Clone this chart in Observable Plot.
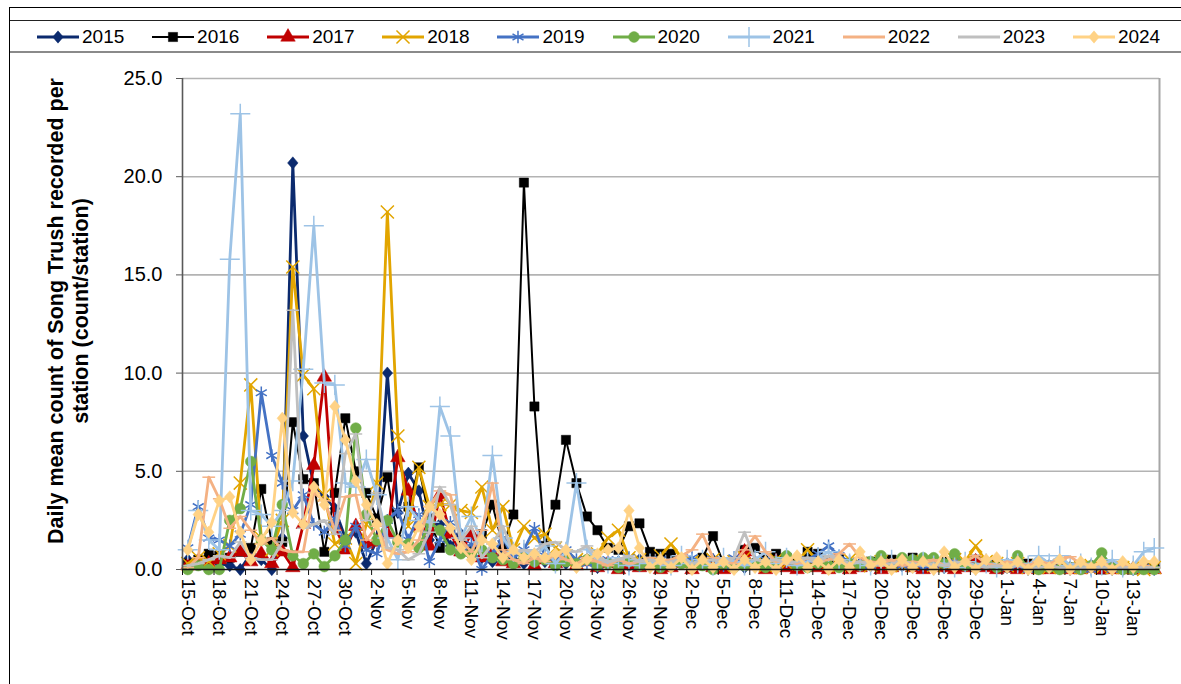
<!DOCTYPE html>
<html>
<head>
<meta charset="utf-8">
<script src="https://cdn.jsdelivr.net/npm/d3@7"></script>
<script src="https://cdn.jsdelivr.net/npm/@observablehq/plot@0.6"></script>
<style>
  body { margin: 0; background: #fff; font-family: "Liberation Sans", Arial, sans-serif; }
  #frame { position: absolute; left: 9px; top: 7px; width: 1172px; height: 677px; border-top: 1.5px solid #000; border-left: 1.5px solid #000; box-sizing: border-box; pointer-events: none; }
  #legend { position: absolute; left: 10px; top: 20px; width: 1171px; height: 33px; border-top: 1px solid #222; border-bottom: 2px solid #8a8a8a; box-sizing: border-box; }
  .item { position: absolute; top: 4px; height: 24px; display: flex; align-items: center; font-size: 19px; color: #000; }
  .item svg { margin-right: 3px; }
  #chart { position: absolute; left: 0; top: 54px; }
</style>
</head>
<body>
<div id="frame"></div>
<div id="legend"></div>
<div id="chart"></div>
<script>
// Day index 0 = 15-Oct ... 92 = 15-Jan
const tickLabels = ["15-Oct","18-Oct","21-Oct","24-Oct","27-Oct","30-Oct","2-Nov","5-Nov","8-Nov","11-Nov","14-Nov","17-Nov","20-Nov","23-Nov","26-Nov","29-Nov","2-Dec","5-Dec","8-Dec","11-Dec","14-Dec","17-Dec","20-Dec","23-Dec","26-Dec","29-Dec","1-Jan","4-Jan","7-Jan","10-Jan","13-Jan"];
const yTicks = [0, 5, 10, 15, 20, 25];
const years = ["2015","2016","2017","2018","2019","2020","2021","2022","2023","2024"];

const v2015 = [0.5,0.3,0.6,0.3,0.2,0.0,0.8,0.5,0.0,1.6,
20.7,6.8,4.3,3.7,3.1,1.6,1.9,0.3,1.5,10.0,
2.9,4.9,4.0,1.5,2.3,1.2,1.8,0.7,0.6,0.4,
0.8,0.5,0.3,0.6,0.4,0.7,0.3,0.2,0.5,0.1,
0.3,0.4,0.2,0.5,0.3,0.4,0.2,0.4,0.1,0.3,
0.5,0.2,0.3,0.1,0.4,0.2,0.6,0.3,0.1,0.2,
0.4,0.3,0.2,0.1,0.3,0.2,0.4,0.1,0.2,0.3,
0.1,0.2,0.1,0.3,0.2,0.1,0.2,0.1,0.3,0.1,
0.2,0.1,0.1,0.2,0.1,0.1,0.2,0.1,0.1,0.0,
0.1,0.1,0.2];
const v2016 = [0.3,0.5,0.8,0.7,0.6,0.9,1.1,4.1,1.4,1.4,
7.5,4.6,4.4,0.9,3.9,7.7,5.0,3.9,2.6,4.7,
1.5,3.2,5.2,2.6,1.1,1.9,1.3,1.0,1.8,3.3,
1.2,2.8,19.7,8.3,1.2,3.3,6.6,4.4,2.7,2.0,
1.1,1.0,2.2,2.35,0.9,0.8,0.8,0.5,0.3,0.6,
1.7,0.3,0.4,1.0,1.1,0.5,0.8,0.6,0.4,0.9,
0.8,0.4,0.6,0.3,0.2,0.4,0.3,0.5,0.3,0.6,
0.4,0.2,0.4,0.5,0.3,0.5,0.2,0.3,0.1,0.2,
0.3,0.1,0.2,0.1,0.1,0.2,0.1,0.0,0.1,0.1,
0.0,0.1,0.1];
const v2017 = [0.2,0.4,0.3,0.5,0.6,0.9,0.4,0.8,0.3,0.9,
0.1,2.3,5.3,9.8,2.2,1.0,2.2,1.3,1.4,1.8,
5.7,4.0,2.2,1.2,3.8,1.8,0.9,1.8,0.6,0.8,
0.4,0.3,0.6,0.2,0.5,0.3,0.7,0.2,0.4,0.1,
0.3,0.0,0.2,0.1,0.2,0.0,0.1,0.3,0.0,0.2,
0.1,0.0,0.3,0.9,0.2,0.0,0.4,0.1,0.0,0.2,
0.1,0.0,0.3,0.0,0.1,0.2,0.0,0.1,0.3,0.1,
0.0,0.2,0.1,0.0,0.1,0.4,0.1,0.0,0.1,0.0,
0.1,0.0,0.0,0.1,0.0,0.0,0.1,0.0,0.0,0.0,
0.0,0.0,0.0];
const v2018 = [0.3,0.6,0.4,0.8,1.2,4.4,9.4,1.6,1.0,2.5,
15.4,9.9,9.2,3.8,1.3,1.6,0.3,2.3,4.4,18.2,
6.8,2.2,5.2,3.2,3.3,3.3,3.0,2.9,4.2,2.0,
3.2,1.0,2.2,1.6,1.8,1.1,0.7,0.5,0.4,0.8,
1.6,2.0,0.6,0.5,0.3,0.7,1.3,0.6,0.4,0.3,
0.5,0.2,0.4,0.6,0.3,0.2,0.5,0.3,0.4,1.0,
0.4,0.3,0.2,0.5,0.3,0.2,0.4,0.3,0.2,0.3,
0.4,0.2,0.3,0.5,0.4,1.2,0.4,0.3,0.2,0.3,
0.1,0.2,0.1,0.2,0.1,0.1,0.2,0.1,0.1,0.1,
0.1,0.0,0.1];
const v2019 = [1.1,3.2,1.6,1.5,1.2,1.8,3.3,9.0,5.8,4.4,
3.0,3.8,2.3,1.9,2.6,1.2,2.2,1.0,0.8,2.5,
3.0,1.5,2.8,0.4,1.5,2.4,0.9,1.3,0.0,0.8,
1.6,0.6,1.0,2.1,0.7,0.4,1.0,0.5,0.3,0.2,
0.5,0.3,0.6,0.2,0.3,0.5,0.2,0.4,0.6,0.3,
0.5,0.2,0.6,0.4,0.3,0.5,0.2,0.4,0.3,0.5,
0.8,1.2,0.7,0.4,0.3,0.2,0.4,0.3,0.2,0.3,
0.1,0.2,0.3,0.4,0.2,0.1,0.3,0.2,0.1,0.2,
0.0,0.1,0.2,0.1,0.0,0.1,0.0,0.1,0.0,0.1,
0.0,0.1,0.0];
const v2020 = [0.0,0.2,0.0,0.0,2.5,3.1,5.5,1.5,1.0,3.3,
0.7,0.3,0.8,0.15,0.7,1.5,7.2,2.8,1.5,2.5,
1.4,1.3,1.1,2.4,2.0,1.0,0.8,0.8,1.0,0.6,
0.5,0.3,0.6,0.4,0.5,0.2,0.4,0.3,0.5,0.2,
0.3,0.1,0.4,0.2,0.3,0.1,0.2,0.3,0.1,0.2,
0.0,0.3,0.1,0.2,0.3,0.1,0.4,0.7,0.2,0.1,
0.3,0.2,0.1,0.3,0.2,0.4,0.7,0.2,0.6,0.5,
0.6,0.6,0.3,0.8,0.2,0.1,0.3,0.1,0.2,0.7,
0.1,0.0,0.1,0.0,0.1,0.0,0.2,0.85,0.1,0.0,
0.0,0.0,0.0];
const v2021 = [1.0,3.0,1.5,1.0,15.8,23.2,3.0,2.8,2.2,3.0,
4.5,10.2,17.5,9.5,9.4,4.4,4.2,5.6,3.8,1.6,
0.5,3.2,2.5,2.4,8.3,6.8,1.6,2.7,1.4,5.8,
1.6,0.9,1.0,0.6,1.2,0.3,0.9,4.4,1.0,0.5,
0.3,0.6,0.2,0.5,0.3,0.4,0.2,0.7,0.3,0.5,
0.2,0.6,0.4,0.2,0.5,0.9,0.3,0.6,0.2,0.4,
0.6,0.9,0.5,0.3,0.4,0.2,0.3,0.5,0.2,0.3,
0.4,0.2,0.3,0.1,0.4,0.2,0.3,0.1,0.5,0.3,
0.2,0.7,0.3,0.7,0.2,0.3,0.1,0.2,0.5,0.1,
0.2,0.9,1.1];
const v2022 = [0.1,0.6,4.7,3.6,2.1,2.7,2.0,1.3,1.6,1.0,
0.9,0.9,3.9,3.5,2.0,3.7,3.8,1.5,2.2,1.0,
0.8,0.9,1.5,3.2,4.0,3.8,1.5,0.9,2.0,4.4,
1.0,0.5,0.3,0.6,0.4,0.8,0.5,0.3,0.6,0.4,
0.2,0.5,0.3,0.4,0.6,0.3,0.5,0.7,1.0,1.8,
0.6,0.4,0.3,1.0,1.7,0.9,0.4,0.5,0.3,0.6,
0.4,0.5,0.8,1.3,0.6,0.4,0.3,0.5,0.2,0.4,
0.3,0.5,0.2,0.3,0.4,0.7,0.3,0.2,0.4,0.3,
0.2,0.4,0.3,0.5,0.65,0.3,0.2,0.3,0.1,0.2,
0.1,0.2,0.1];
const v2023 = [0.2,0.3,0.5,0.7,0.6,1.4,0.6,0.5,0.5,1.4,
13.2,2.1,2.3,2.5,1.8,5.9,6.9,2.5,3.9,1.1,
1.0,0.5,0.8,1.9,4.2,3.3,1.5,2.2,0.6,1.3,
2.2,0.8,1.0,0.9,1.3,1.4,1.0,0.9,1.2,0.6,
0.4,0.5,0.7,0.4,0.5,0.3,0.4,0.5,0.3,0.4,
0.5,0.3,0.6,1.9,0.5,0.4,0.5,0.3,0.4,0.6,
0.4,0.7,0.5,0.3,0.4,0.3,0.2,0.3,0.4,0.3,
0.2,0.3,0.2,0.4,0.3,0.2,0.1,0.2,0.1,0.2,
0.1,0.1,0.2,0.1,0.1,0.1,0.1,0.1,0.1,0.1,
0.1,0.1,0.1];
const v2024 = [1.0,2.8,1.9,3.5,3.7,1.9,0.5,1.5,2.4,7.7,
2.9,2.3,4.2,3.3,8.3,6.6,4.5,3.3,2.3,0.3,
1.5,1.1,2.2,3.2,2.8,2.1,1.1,0.5,1.5,1.3,
0.6,1.0,0.6,0.8,0.6,0.8,1.0,0.1,0.5,0.8,
1.0,1.1,3.0,1.1,0.1,0.5,0.1,0.6,0.0,0.5,
0.1,0.4,0.0,0.5,0.1,0.4,0.0,0.5,0.7,0.1,
0.4,0.0,0.5,0.1,0.9,0.2,0.4,0.0,0.5,0.1,
0.4,0.0,0.9,0.1,0.4,0.0,0.5,0.6,0.1,0.4,
0.0,0.4,0.1,0.5,0.0,0.4,0.1,0.4,0.0,0.4,
0.1,0.4,0.4];

// Custom marker shapes
const dash = { draw(ctx, size) { const w = Math.sqrt(size) * 0.8; ctx.moveTo(-w, 0); ctx.lineTo(w, 0); } };
const rhombus = { draw(ctx, size) { const h = Math.sqrt(size) * 0.62; ctx.moveTo(0, -h); ctx.lineTo(h * 0.85, 0); ctx.lineTo(0, h); ctx.lineTo(-h * 0.85, 0); ctx.closePath(); } };

const styles = [
  {color: "#0B2A6E", symbol: rhombus, filled: true, r: 5.6, lw: 2.8},
  {color: "#000000", symbol: "square", filled: true, r: 5.2, lw: 2},
  {color: "#C00000", symbol: "triangle", filled: true, r: 5.4, lw: 2.8},
  {color: "#E2A500", symbol: "times", filled: false, r: 6, lw: 2.8},
  {color: "#4472C4", symbol: "asterisk", filled: false, r: 6, lw: 2.8},
  {color: "#70AD47", symbol: "circle", filled: true, r: 5.4, lw: 2.8},
  {color: "#9DC3E6", symbol: "plus", filled: false, r: 6.5, lw: 2.8},
  {color: "#F4B183", symbol: dash, filled: false, r: 4.5, lw: 2.8},
  {color: "#BFBFBF", symbol: dash, filled: false, r: 4.5, lw: 2.8},
  {color: "#FFD285", symbol: rhombus, filled: true, r: 5.6, lw: 2.8}
];
const d3Named = {square: d3.symbolSquare, triangle: d3.symbolTriangle, times: d3.symbolTimes, asterisk: d3.symbolAsterisk, circle: d3.symbolCircle, plus: d3.symbolPlus};
const allValues = [v2015, v2016, v2017, v2018, v2019, v2020, v2021, v2022, v2023, v2024];

const series = years.map((y, k) => ({
  year: y,
  ...styles[k],
  data: allValues[k].map((v, i) => ({day: i, value: v, year: y}))
}));

const marks = [];
for (const s of series) {
  marks.push(Plot.line(s.data, {x: "day", y: "value", stroke: s.color, strokeWidth: s.lw}));
  marks.push(Plot.dot(s.data, {
    x: "day", y: "value", symbol: s.symbol, r: s.r,
    fill: s.filled ? s.color : "none",
    stroke: s.color,
    strokeWidth: s.filled ? 0.5 : 1.5
  }));
}

const labelDays = tickLabels.map((_, k) => k * 3);
const boundaryDays = tickLabels.map((_, k) => k * 3 - 0.5);

const chart = Plot.plot({
  width: 1181,
  height: 630,
  marginLeft: 182,
  marginRight: 22,
  marginTop: 24,
  marginBottom: 115,
  style: {fontFamily: "'Liberation Sans', Arial, sans-serif", color: "#000", background: "transparent", overflow: "visible"},
  x: {domain: [-0.5, 92.5]},
  y: {domain: [0, 25]},
  marks: [
    Plot.gridY(yTicks.slice(1), {stroke: "#b3b3b3", strokeOpacity: 1, strokeWidth: 1.6}),
    Plot.ruleX([92.5], {stroke: "#a6a6a6", strokeWidth: 2}),
    ...marks,
    Plot.ruleX([-0.5], {stroke: "#595959", strokeWidth: 1.6}),
    Plot.ruleY([0], {stroke: "#111", strokeWidth: 1.6}),
    Plot.axisY({ticks: yTicks, tickFormat: d => d.toFixed(1), tickSize: 6, tickPadding: 14, fontSize: 20, stroke: "#595959", label: null}),
    Plot.axisX({ticks: labelDays, tickFormat: d => tickLabels[Math.round(d / 3)], tickRotate: 90, tickSize: 0, tickPadding: 9, fontSize: 19, label: null}),
    Plot.axisX({ticks: boundaryDays, tickFormat: () => "", tickSize: 6, stroke: "#111", label: null})
  ]
});
document.getElementById("chart").appendChild(chart);

// Y-axis title (two lines)
const svg = d3.select(chart);
const titleLines = ["Daily mean count of Song Trush recorded per", "station (count/station)"];
titleLines.forEach((t, k) => {
  svg.append("text")
    .attr("transform", `translate(${63 + 25 * k},257) rotate(-90)`)
    .attr("text-anchor", "middle")
    .attr("font-size", 21.5)
    .attr("font-weight", "bold")
    .attr("font-family", "'Liberation Sans', Arial, sans-serif")
    .attr("fill", "#000")
    .text(t);
});

// Legend
const legend = document.getElementById("legend");
series.forEach((s, k) => {
  const item = document.createElement("div");
  item.className = "item";
  item.style.left = (27 + 115.1 * k) + "px";
  const ls = d3.create("svg").attr("width", 42).attr("height", 20);
  ls.append("line").attr("x1", 0).attr("x2", 42).attr("y1", 10).attr("y2", 10)
    .attr("stroke", s.color).attr("stroke-width", s.lw + 0.2);
  const symType = typeof s.symbol === "string" ? d3Named[s.symbol] : s.symbol;
  ls.append("path")
    .attr("d", d3.symbol(symType, Math.PI * s.r * s.r)())
    .attr("transform", "translate(21,10)")
    .attr("fill", s.filled ? s.color : "none")
    .attr("stroke", s.color)
    .attr("stroke-width", s.filled ? 0.5 : 1.5);
  item.appendChild(ls.node());
  const lab = document.createElement("span");
  lab.textContent = s.year;
  item.appendChild(lab);
  legend.appendChild(item);
});
</script>
</body>
</html>
